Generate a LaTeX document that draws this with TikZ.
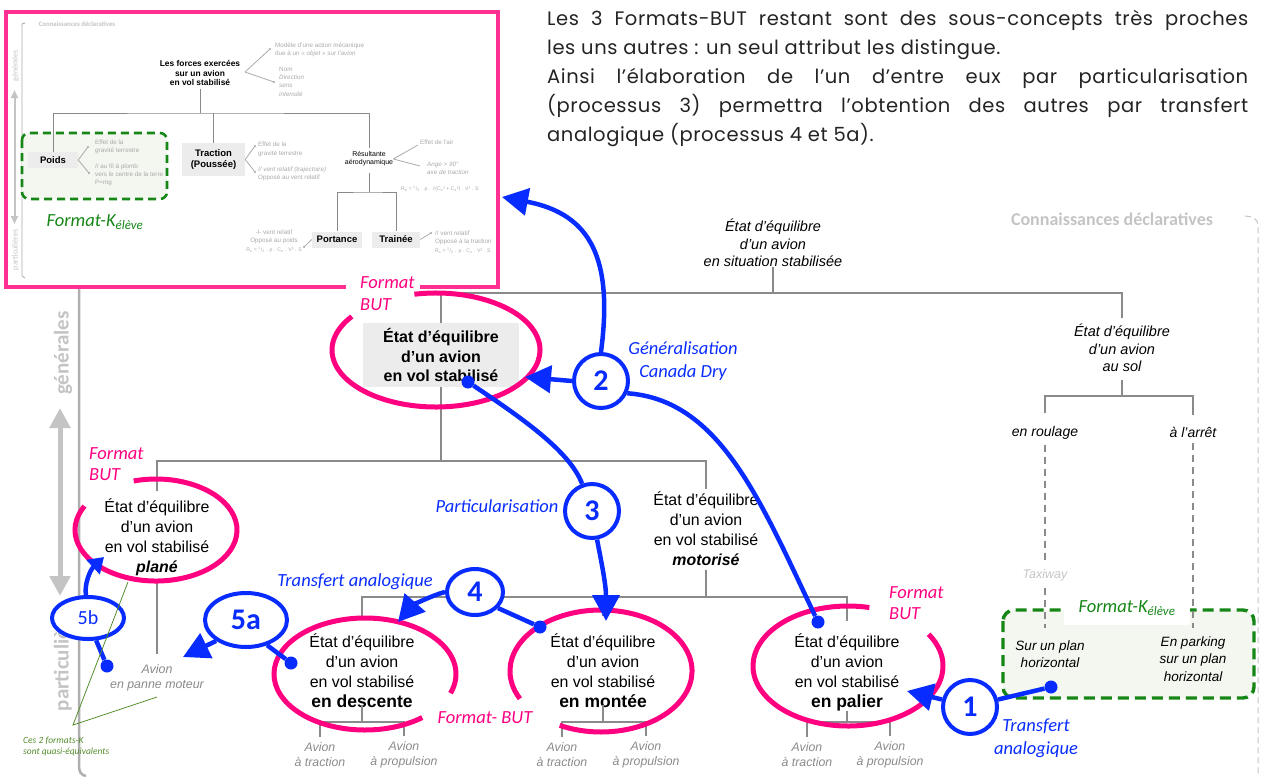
\documentclass[tikz,border=0pt]{standalone}
\usepackage{fontspec}
\setmainfont{Liberation Sans}
\newfontfamily\calfont{Carlito}
\newfontfamily\parafont[LetterSpace=3.0]{Poppins}
\usetikzlibrary{arrows.meta,shapes.geometric}
\newcommand\fsz[2]{\fontsize{#1}{#2}\selectfont}
\definecolor{bblue}{RGB}{8,44,255}
\definecolor{bpink}{RGB}{255,0,128}
\definecolor{fpink}{RGB}{255,48,145}
\definecolor{kgreen}{RGB}{22,135,22}
\definecolor{kfill}{RGB}{243,247,239}
\definecolor{tgray}{RGB}{138,138,138}
\definecolor{lgray}{RGB}{196,196,196}
\definecolor{vgray}{RGB}{175,175,175}
\definecolor{igray}{RGB}{170,170,170}
\definecolor{boxgray}{RGB}{236,236,236}
\definecolor{olivek}{RGB}{85,140,45}
\definecolor{ptext}{RGB}{35,35,35}
\tikzset{
  tree/.style={draw=tgray, line width=1.8pt},
  dtree/.style={draw=tgray, line width=1.4pt, dash pattern=on 7pt off 5pt},
  txt/.style={inner sep=0pt, align=center, text=black},
  nrm/.style={txt, font=\fsz{15.9}{20}},
  nital/.style={txt, font=\itshape\fsz{14.5}{17.5}},
  leaf/.style={txt, text=tgray, font=\itshape\fsz{12.3}{15}},
  pinkring/.style={draw=bpink, line width=5pt},
  pinklab/.style={inner sep=0pt, align=left, text=bpink, font=\calfont\itshape\fsz{18.5}{21.5}},
  bluelab/.style={inner sep=0pt, align=center, text=bblue, font=\calfont\itshape\fsz{18.5}{23.5}},
  bl/.style={draw=bblue, line width=4.5pt},
  bhead/.style={-{Triangle[length=26pt,width=27pt]}},
  num/.style={circle, draw=bblue, line width=4pt, fill=white, inner sep=0pt, minimum size=54pt, text=bblue, font=\calfont\bfseries\fsz{30}{30}},
  bdot/.style={circle, fill=bblue, inner sep=0pt, minimum size=13pt},
  klab/.style={inner sep=0pt, text=kgreen, font=\calfont\itshape\fsz{18.5}{20}},
  kbox/.style={draw=kgreen, fill=kfill, line width=3.4pt, dash pattern=on 11pt off 6pt, rounded corners=11pt},
  para/.style={inner sep=0pt, text=ptext, font=\parafont\fsz{19.5}{29}},
  igl/.style={draw=igray, line width=0.8pt},
  itree/.style={draw=tgray, line width=0.9pt},
  itx/.style={inner sep=0pt, align=left, text=igray, font=\fsz{6.3}{8.3}},
  ibox/.style={fill=boxgray, inner sep=0pt, align=center, font=\bfseries\fsz{9.5}{10.5}},
}
\begin{document}
\begin{tikzpicture}[x=1pt,y=-1pt]
\useasboundingbox (0,0) rectangle (1265,776);

% ---------- top paragraph
\node[para, anchor=base west] (p1) at (547,25.5) {\hbox to 701pt{Les 3 Formats-BUT restant sont des sous-concepts très proches}};
\node[para, anchor=base west] (p2) at (547,54.5) {les uns autres : un seul attribut les distingue.};
\node[para, anchor=base west] (p3) at (547,83.5) {\hbox to 701pt{Ainsi l’élaboration de l’un d’entre eux par particularisation}};
\node[para, anchor=base west] (p4) at (547,112.5) {\hbox to 701pt{(processus 3) permettra l’obtention des autres par transfert}};
\node[para, anchor=base west] (p5) at (547,141.5) {analogique (processus 4 et 5a).};

% ---------- main frame lines
\draw[draw=vgray, line width=2.5pt] (79,280) -- (79,766) .. controls (79,772) and (81,775) .. (86,776);
\draw[draw=lgray, line width=5pt, {Triangle[length=20pt,width=20pt]}-{Triangle[length=20pt,width=20pt]}] (60,408) -- (60,596);
\node[rotate=90, inner sep=0pt, text=lgray, font=\calfont\bfseries\fsz{21}{21}] (gen) at (63,353) {générales};
\node[rotate=90, inner sep=0pt, text=lgray, font=\calfont\bfseries\fsz{21}{21}] (part) at (63,657) {particulières};
\node[font=\calfont\bfseries\fsz{18}{18}, text=lgray, inner sep=0pt] (cd) at (1112,219) {Connaissances déclaratives};
\draw[draw=lgray, line width=1pt, dash pattern=on 6pt off 4pt] (1245,216) .. controls (1252,216) and (1258,219) .. (1258,225) -- (1258,776);

% ---------- inset
\node[draw=fpink, line width=4.5pt, fill=white, minimum width=492pt, minimum height=275pt, inner sep=0pt] (inset) at (252,149.5) {};
\draw[igl] (25,23) -- (22,24) -- (22,276) -- (25,278);
\node[inner sep=0pt, text=lgray, font=\calfont\bfseries\fsz{6.8}{8}] (icd) at (77,24) {Connaissances déclaratives};
\draw[draw=lgray, line width=2pt, {Triangle[length=8pt,width=7pt]}-{Triangle[length=8pt,width=7pt]}] (14.5,90) -- (14.5,224);
\node[rotate=90, inner sep=0pt, text=lgray, font=\calfont\fsz{8}{8}] (igen) at (15.5,66) {générales};
\node[rotate=90, inner sep=0pt, text=lgray, font=\calfont\fsz{8}{8}] (ipart) at (15.5,250) {particulières};
\draw[kbox, line width=2.6pt, dash pattern=on 8pt off 5pt, rounded corners=7pt] (22,133) rectangle (167,199);
\node[klab] (kin) at (95,222) {Format-K\textsubscript{élève}};

\node[font=\bfseries\fsz{8.4}{9.5}, align=center, inner sep=0pt] (iforces) at (200,73) {Les forces exercées\\sur un avion\\en vol stabilisé};
\coordinate (ij1) at (200,113);
\draw[itree] ([yshift=-3pt]iforces.south) -- (ij1);
\node[ibox, minimum width=50pt, minimum height=16pt] (ipoids) at (53,160) {Poids};
\node[ibox, minimum width=63pt, minimum height=33pt] (itrac) at (213.5,159.5) {Traction\\(Poussée)};
\node[inner sep=0pt, align=center, font=\fsz{7}{8.2}] (ires) at (369,159) {Résultante\\aérodynamique};
\draw[itree] (ipoids.north) |- (ij1) -| ([yshift=3pt]ires.north);
\draw[itree] (itrac.north) -- (itrac.north |- ij1);
\coordinate (ij2) at (369,192);
\draw[itree] ([yshift=-6pt]ires.south) -- (ij2);
\node[ibox, minimum width=50pt, minimum height=16pt] (iport) at (337,239.5) {Portance};
\node[ibox, minimum width=48pt, minimum height=16pt] (itrai) at (396,239.5) {Trainée};
\draw[itree] (iport.north) |- (ij2) -| (itrai.north);

\node[itx, anchor=west] (imod) at (275,50) {Modèle d’une action mécanique\\due à un \textit{« objet » sur l’avion}};
\node[itx, anchor=west] (inom) at (279,81.5) {Nom\\\textit{Direction}\\\textit{sens}\\\textit{intensité}};
\draw[igl] (245,72) -- (270,49) (245,72) -- (274,82);
\fill[igray] (270,49) circle (1.1pt) (274,82) circle (1.1pt);

\node[itx, anchor=west] (ip1) at (95,147) {Effet de la\\gravité terrestre};
\node[itx, anchor=west] (ip2) at (95,175) {// au fil à plomb\\vers le centre de la terre\\P=mg};
\draw[igl] (ipoids.east) -- (88,147) (ipoids.east) -- (89,173);
\fill[igray] (88,147) circle (1.1pt) (89,173) circle (1.1pt);

\node[itx, anchor=west] (it1) at (258,149.5) {Effet de la\\gravité terrestre};
\node[itx, anchor=west] (it2) at (258,174) {\textit{// vent relatif (trajectoire)}\\Opposé au vent relatif};
\draw[igl] (itrac.east) -- (255,146) (itrac.east) -- (255,172);
\fill[igray] (255,146) circle (1.1pt) (255,172) circle (1.1pt);

\node[itx, anchor=west] (ir1) at (420,142) {Effet de l’air};
\node[itx, anchor=west] (ir2) at (427,168) {\textit{Ange > 90°}\\\textit{axe de traction}};
\node[itx, anchor=west, font=\fsz{5.2}{6}] (ir3) at (401,189) {R\textsubscript{a} = \textsuperscript{1}/\textsubscript{2} . ρ . √(C\textsubscript{x}² + C\textsubscript{z}²) . V² . S};
\draw[igl] (ires.east) -- (418,145) (ires.east) -- (420,166);

\node[itx, align=center, anchor=east] (ipo) at (302,241) {-l- vent relatif\\Opposé au poids\\{\fsz{5.2}{8.3}R\textsubscript{z} = \textsuperscript{1}/\textsubscript{2} . ρ . C\textsubscript{z} . V² . S}};
\draw[igl] (304,247) -- (iport.west);
\fill[igray] (304,247) circle (1.1pt);
\node[itx, anchor=west] (itr) at (435,242) {// vent relatif\\Opposé à la traction\\{\fsz{5.2}{8.3}R\textsubscript{x} = \textsuperscript{1}/\textsubscript{2} . ρ . C\textsubscript{x} . V² . S}};
\draw[igl] (itrai.east) -- (431,233);
\fill[igray] (431,233) circle (1.1pt);

% ---------- main tree
\node[nital] (root) at (773,243) {État d’équilibre\\d’un avion\\en situation stabilisée};
\node[fill=boxgray, minimum width=156pt, minimum height=64pt, inner sep=0pt, align=center, font=\bfseries\fsz{16}{19.5}] (stab) at (441,355) {État d’équilibre\\d’un avion\\en vol stabilisé};
\node[nital] (sol) at (1122,348) {État d’équilibre\\d’un avion\\au sol};
\node[txt, font=\itshape\fsz{14}{17}] (roul) at (1045,433) {en roulage};
\node[txt, font=\itshape\fsz{14}{17}] (arret) at (1193,432) {à l’arrêt};
\node[txt, text=lgray, font=\itshape\fsz{12.5}{15}] (taxi) at (1045,575) {Taxiway};

\coordinate (j1) at (773,293);
\draw[tree] (root.south) -- (j1);
\draw[tree] (stab.north) |- (j1) -| ([yshift=6pt]sol.north);
\coordinate (j4) at (1122,396);
\draw[tree] ([yshift=-8pt]sol.south) -- (j4);
\draw[tree] ([yshift=13pt]roul.north) |- (j4) -| ([yshift=12pt]arret.north);

\draw[kbox] (1003,610) rectangle (1254,698);
\fill[white] (1064,597) rectangle (1190,625);
\node[klab] (kmain) at (1127,608) {Format-K\textsubscript{élève}};
\node[txt, font=\itshape\fsz{13.5}{17}] (sur) at (1050,654) {Sur un plan\\horizontal};
\node[txt, font=\itshape\fsz{13.5}{17.5}] (park) at (1193,659) {En parking\\sur un plan\\horizontal};
\coordinate (rend) at (1045,628);
\coordinate (aend) at (1193,628);
\draw[dtree] ([yshift=-5pt]roul.south) -- ([yshift=8pt]taxi.north);
\draw[dtree] ([yshift=-7pt]taxi.south) -- (rend);
\draw[dtree] ([yshift=-6pt]arret.south) -- (aend);

\coordinate (j2) at (441,461);
\draw[tree] (stab.south) -- (j2);
\node[nrm] (plane) at (157,537) {État d’équilibre\\d’un avion\\en vol stabilisé\\{\bfseries\itshape plané}};
\node[nrm] (moto) at (706,529) {État d’équilibre\\d’un avion\\en vol stabilisé\\{\bfseries\itshape motorisé}};
\draw[tree] ([yshift=7pt]plane.north) |- (j2) -| ([yshift=3pt]moto.north);
\node[leaf, font=\itshape\fsz{12.4}{15}] (panne) at (157,678) {Avion\\en panne moteur};
\draw[tree] ([yshift=-6pt]plane.south) -- ([yshift=11pt]panne.north);

\coordinate (j3) at (706,597);
\draw[tree] ([yshift=-4pt]moto.south) -- (j3);
\node[nrm] (desc) at (362,671) {État d’équilibre\\d’un avion\\en vol stabilisé\\{\bfseries\fsz{17.5}{20}en descente}};
\node[nrm] (mont) at (603,671) {État d’équilibre\\d’un avion\\en vol stabilisé\\{\bfseries\fsz{17.5}{20}en montée}};
\node[nrm] (pal) at (847,672) {État d’équilibre\\d’un avion\\en vol stabilisé\\{\bfseries\fsz{17.5}{20}en palier}};
\draw[tree] ([yshift=18pt]desc.north) |- (j3) -| ([yshift=12pt]pal.north);
\draw[tree] ([yshift=18pt]mont.north) -- (mont.north |- j3);

\coordinate (dj) at (362,722);
\coordinate (mj) at (603,722);
\coordinate (pj) at (847,722);
\draw[tree] ([yshift=3pt]desc.south) -- (dj);
\draw[tree] ([yshift=3pt]mont.south) -- (mj);
\draw[tree] ([yshift=0pt]pal.south) -- (pj);
\node[leaf] (dt) at (320,755) {Avion\\à traction};
\node[leaf] (dp) at (404,755) {Avion\\à propulsion};
\node[leaf] (mt) at (562,755) {Avion\\à traction};
\node[leaf] (mp) at (646,755) {Avion\\à propulsion};
\node[leaf] (pt) at (807,755) {Avion\\à traction};
\node[leaf] (pp) at (890,755) {Avion\\à propulsion};
\draw[tree] ([yshift=6pt]dt.north) |- (dj) -| ([yshift=6pt]dp.north);
\draw[tree] ([yshift=6pt]mt.north) |- (mj) -| ([yshift=6pt]mp.north);
\draw[tree] ([yshift=6pt]pt.north) |- (pj) -| ([yshift=6pt]pp.north);

% ---------- pink rings and labels
\fill[white] (346,280) rectangle (420,312);
\draw[pinkring] (436,350) ++(258:104 and 57) arc[start angle=258, end angle=576, x radius=104, y radius=57];
\draw[pinkring] (156,530) ++(254:81 and 51) arc[start angle=254, end angle=568, x radius=81, y radius=51];
\draw[pinkring] (365,674) ++(51:91 and 56) arc[start angle=51, end angle=380, x radius=91, y radius=56];
\draw[pinkring] (601,671) ++(153:91 and 61) arc[start angle=153, end angle=477, x radius=91, y radius=61];
\draw[pinkring] (848,666) ++(328:95 and 60) arc[start angle=328, end angle=643, x radius=95, y radius=60];
\node[pinklab, anchor=west] (fb1) at (360,293.5) {Format\\BUT};
\node[pinklab, anchor=west] (fb2) at (89,464) {Format\\BUT};
\node[pinklab] (fb3) at (485,718) {Format- BUT};
\node[pinklab, anchor=west] (fb4) at (889,603) {Format\\BUT};

% ---------- blue processes
\node[num] (n2) at (601,381) {2};
\node[bluelab] (genl) at (683,361) {Généralisation\\Canada Dry};
\coordinate (c2a) at (502,197);
\coordinate (c2b) at (525,377);
\draw[bl,bhead] (n2.north) .. controls (613,260) and (592,214) .. (c2a);
\draw[bl,bhead] (n2.west) -- (c2b);
\node[bdot] (dpal) at (818,622) {};
\draw[bl] (n2.-25) .. controls (720,400) and (760,500) .. (dpal);

\node[bdot] (dstab) at (468,382) {};
\node[num] (n3) at (592,511) {3};
\draw[bl] (dstab) .. controls (525,420) and (570,452) .. (n3.110);
\node[bluelab] (partl) at (497,506) {Particularisation};
\coordinate (c3) at (606,621);
\draw[bl,bhead] (n3.-80) .. controls (602,565) and (606,585) .. (c3);

\node[num, ellipse, minimum width=56pt, minimum height=46pt] (n4) at (475,592) {4};
\coordinate (c4) at (398,622);
\draw[bl,bhead] (n4.west) .. controls (430,596) and (412,606) .. (c4);
\node[bdot] (dmont) at (540,627) {};
\draw[bl] (n4.-35) -- (dmont);
\node[bluelab] (tra4) at (355,582) {Transfert analogique};

\node[num, ellipse, minimum width=82pt, minimum height=54pt] (n5a) at (246,620) {5a};
\coordinate (c5a) at (183,657);
\draw[bl,bhead] (n5a.215) -- (c5a);
\node[bdot] (ddesc) at (291,663) {};
\draw[bl] (n5a.-50) -- (ddesc);

\node[num, ellipse, minimum width=72pt, minimum height=42pt, font=\calfont\fsz{20}{20}] (n5b) at (88,618) {5b};
\coordinate (c5b) at (104,557);
\draw[bl, -{Triangle[length=15pt,width=19pt]}] (n5b.95) .. controls (84,585) and (90,570) .. (c5b);
\node[bdot] (dpane) at (107,666) {};
\draw[bl] (n5b.-70) -- (dpane);

\node[num] (n1) at (970,707) {1};
\coordinate (c1) at (907,691);
\draw[bl,bhead] (n1.165) -- (c1);
\node[bdot] (dsur) at (1051,687) {};
\draw[bl] (n1.15) -- (dsur);
\node[bluelab] (tra1) at (1036,738) {Transfert\\analogique};

% ---------- green note
\node[inner sep=0pt, align=left, anchor=west, text=olivek, font=\calfont\itshape\fsz{9.5}{11}] (ces) at (23,746.5) {Ces 2 formats-K\\sont quasi-équivalents};
\coordinate (capex) at (73,725);
\coordinate (cq1) at (128,582);
\coordinate (cq2) at (157,697);
\draw[olivek, line width=0.8pt] (cq1) -- (capex) -- (cq2);
\end{tikzpicture}
\end{document}
